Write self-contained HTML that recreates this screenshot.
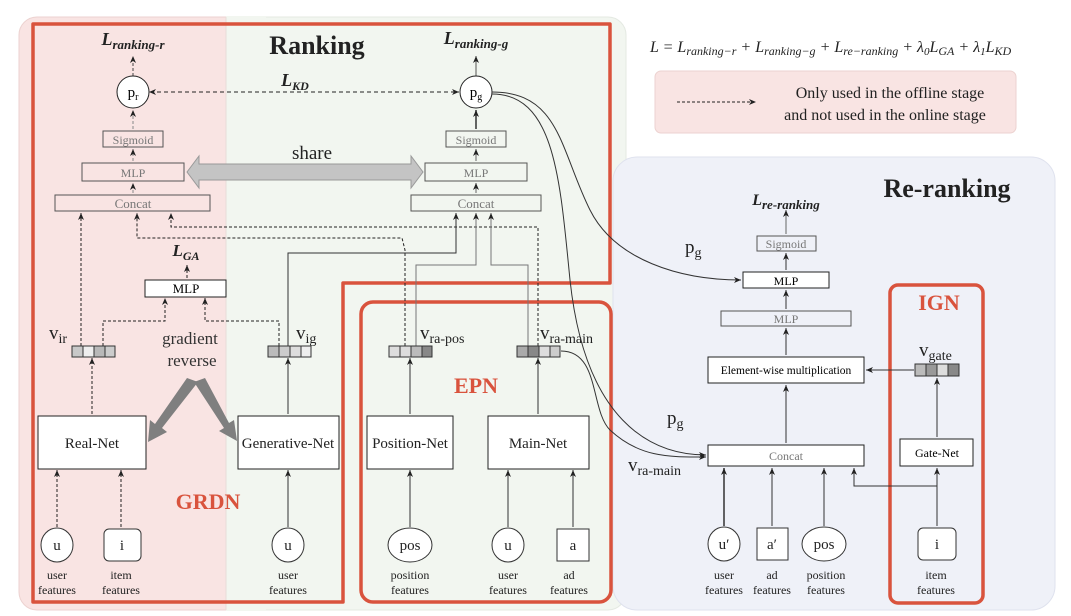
<!DOCTYPE html>
<html><head><meta charset="utf-8"><style>
html,body{margin:0;padding:0;background:#fff;}
svg{display:block;font-family:"Liberation Serif",serif;}
</style></head><body>
<svg width="1071" height="616" viewBox="0 0 1071 616" xmlns="http://www.w3.org/2000/svg">
<defs>
<marker id="ah" markerWidth="8" markerHeight="8" refX="7" refY="4" orient="auto" markerUnits="userSpaceOnUse"><path d="M0,1 L7,4 L0,7 L2,4 z" fill="#222"/></marker>
<marker id="ahs" markerWidth="8" markerHeight="8" refX="1" refY="4" orient="auto" markerUnits="userSpaceOnUse"><path d="M7,1 L0,4 L7,7 L5,4 z" fill="#222"/></marker>
</defs>
<!-- backgrounds -->
<rect x="226" y="17" width="400" height="593" rx="18" fill="#f2f6f0" stroke="#e4e9e2"/>
<rect x="19" y="17" width="240" height="593" rx="18" fill="#f9e4e3" stroke="#ecd2d0"/>
<rect x="226" y="16" width="40" height="595" fill="#f2f6f0"/>
<line x1="226" y1="17" x2="226" y2="610" stroke="#e8dcd8"/>
<rect x="613" y="157" width="442" height="453" rx="24" fill="#eff1f8" stroke="#dfe2ee"/>
<!-- red outlines -->
<path d="M33,24 H610 V283 H343 V602 H33 Z" fill="none" stroke="#d9533d" stroke-width="3.5" stroke-linejoin="round"/>
<rect x="361" y="302" width="250" height="300" rx="12" fill="none" stroke="#d9533d" stroke-width="3.5"/>
<rect x="890" y="285" width="93" height="318" rx="8" fill="none" stroke="#d9533d" stroke-width="3.5"/>

<!-- titles -->
<text x="317" y="54" font-size="26" font-weight="bold" text-anchor="middle" fill="#222">Ranking</text>
<text x="947" y="197" font-size="26" font-weight="bold" text-anchor="middle" fill="#222">Re-ranking</text>
<text x="208" y="509" font-size="22" font-weight="bold" text-anchor="middle" fill="#d9533d">GRDN</text>
<text x="476" y="393" font-size="22" font-weight="bold" text-anchor="middle" fill="#d9533d">EPN</text>
<text x="939" y="310" font-size="22" font-weight="bold" text-anchor="middle" fill="#d9533d">IGN</text>

<!-- formula & legend -->
<text x="650" y="52" font-size="16" font-style="italic" fill="#222">L = L<tspan font-size="12" dy="3">ranking−r</tspan><tspan dy="-3"> + L</tspan><tspan font-size="12" dy="3">ranking−g</tspan><tspan dy="-3"> + L</tspan><tspan font-size="12" dy="3">re−ranking</tspan><tspan dy="-3"> + λ</tspan><tspan font-size="11" dy="3">0</tspan><tspan dy="-3">L</tspan><tspan font-size="12" dy="3">GA</tspan><tspan dy="-3"> + λ</tspan><tspan font-size="11" dy="3">1</tspan><tspan dy="-3">L</tspan><tspan font-size="12" dy="3">KD</tspan></text>
<rect x="655" y="71" width="361" height="62" rx="6" fill="#f9e4e3" stroke="#ecd2d0"/>
<line x1="677" y1="102" x2="756" y2="102" stroke="#222" stroke-dasharray="3,2" marker-end="url(#ah)"/>
<text x="890" y="98" font-size="16" text-anchor="middle" fill="#222">Only used in the offline stage</text>
<text x="885" y="120" font-size="16" text-anchor="middle" fill="#222">and not used in the online stage</text>

<!-- ranking top -->
<text x="133" y="45" font-size="18" font-weight="bold" font-style="italic" text-anchor="middle" fill="#222">L<tspan font-size="13" dy="4">ranking-r</tspan></text>
<text x="476" y="44" font-size="18" font-weight="bold" font-style="italic" text-anchor="middle" fill="#222">L<tspan font-size="13" dy="4">ranking-g</tspan></text>
<text x="295" y="86" font-size="18" font-weight="bold" font-style="italic" text-anchor="middle" fill="#222">L<tspan font-size="12" dy="4">KD</tspan></text>
<line x1="133" y1="76" x2="133" y2="56" stroke="#444" stroke-dasharray="3,2" marker-end="url(#ah)"/>
<line x1="476" y1="76" x2="476" y2="56" stroke="#555" marker-end="url(#ah)"/>
<line x1="150" y1="92" x2="459" y2="92" stroke="#222" stroke-dasharray="4,3" marker-start="url(#ahs)" marker-end="url(#ah)"/>
<circle cx="133" cy="92" r="16" fill="#fff" stroke="#222"/>
<text x="133" y="97" font-size="15" text-anchor="middle">p<tspan font-size="10" dy="3">r</tspan></text>
<circle cx="476" cy="92" r="16" fill="#fff" stroke="#222"/>
<text x="476" y="97" font-size="15" text-anchor="middle">p<tspan font-size="10" dy="3">g</tspan></text>

<rect x="103" y="131" width="60" height="16" fill="none" stroke="#555"/>
<text x="133" y="144" font-size="12" text-anchor="middle" fill="#777">Sigmoid</text>
<rect x="446" y="131" width="60" height="16" fill="none" stroke="#555"/>
<text x="476" y="144" font-size="12" text-anchor="middle" fill="#777">Sigmoid</text>
<rect x="82" y="163" width="102" height="18" fill="none" stroke="#555"/>
<text x="133" y="177" font-size="12" text-anchor="middle" fill="#777">MLP</text>
<rect x="425" y="163" width="102" height="18" fill="none" stroke="#555"/>
<text x="476" y="177" font-size="12" text-anchor="middle" fill="#777">MLP</text>
<rect x="55" y="195" width="155" height="16" fill="none" stroke="#555"/>
<text x="133" y="208" font-size="13" text-anchor="middle" fill="#777">Concat</text>
<rect x="411" y="195" width="130" height="16" fill="none" stroke="#555"/>
<text x="476" y="208" font-size="13" text-anchor="middle" fill="#777">Concat</text>
<g stroke="#888" stroke-dasharray="3,2">
<line x1="133" y1="129" x2="133" y2="110" marker-end="url(#ah)"/>
<line x1="133" y1="161" x2="133" y2="149" marker-end="url(#ah)"/>
<line x1="133" y1="193" x2="133" y2="183" marker-end="url(#ah)"/>
</g>
<g stroke="#666">
<line x1="476" y1="129" x2="476" y2="110" stroke="#333" stroke-width="1.5" marker-end="url(#ah)"/>
<line x1="476" y1="161" x2="476" y2="149" marker-end="url(#ah)"/>
<line x1="476" y1="193" x2="476" y2="183" marker-end="url(#ah)"/>
</g>
<!-- share arrow -->
<path d="M187,172 L199,156 L199,164 L411,164 L411,156 L423,172 L411,188 L411,180 L199,180 L199,188 Z" fill="#c4c4c4" stroke="#999"/>
<text x="312" y="159" font-size="19" text-anchor="middle" fill="#222">share</text>

<!-- L_GA & small MLP -->
<text x="186" y="256" font-size="17" font-weight="bold" font-style="italic" text-anchor="middle" fill="#222">L<tspan font-size="12" dy="4">GA</tspan></text>
<line x1="187" y1="278" x2="187" y2="265" stroke="#222" stroke-dasharray="3,2" marker-end="url(#ah)"/>
<rect x="145" y="280" width="81" height="17" fill="#fff" stroke="#222"/>
<text x="186" y="293" font-size="13" text-anchor="middle">MLP</text>

<!-- dashed connectors to left concat -->
<g fill="none" stroke="#222" stroke-dasharray="3,2">
<path d="M81,346 V213" marker-end="url(#ah)"/>
<path d="M405,346 V250 L402,238 H137 V213" marker-end="url(#ah)"/>
<path d="M538,346 V227 H171 V213" marker-end="url(#ah)"/>
<path d="M103,346 V321 H165 V298" marker-end="url(#ah)"/>
<path d="M279,346 V321 H205 V298" marker-end="url(#ah)"/>
<path d="M92,414 V358" marker-end="url(#ah)"/>
<path d="M57,527 V470" marker-end="url(#ah)"/>
<path d="M121,527 V470" marker-end="url(#ah)"/>
</g>
<!-- solid connectors to right concat -->
<g fill="none" stroke="#333">
<path d="M288,346 V253 H456 V213" marker-end="url(#ah)"/>
<path d="M416,346 V265 H476 V213" stroke="#777" marker-end="url(#ah)"/>
<path d="M528,346 V265 H491 V213" stroke="#777" marker-end="url(#ah)"/>
<path d="M288,414 V358" marker-end="url(#ah)"/>
<path d="M410,414 V358" marker-end="url(#ah)"/>
<path d="M538,414 V358" marker-end="url(#ah)"/>
<path d="M288,527 V470" marker-end="url(#ah)"/>
<path d="M410,527 V470" marker-end="url(#ah)"/>
<path d="M508,527 V470" marker-end="url(#ah)"/>
<path d="M573,527 V470" marker-end="url(#ah)"/>
</g>

<!-- vectors -->
<g stroke="#333" stroke-width="1">
<rect x="72" y="346" width="11" height="11" fill="#c8c8c8"/><rect x="83" y="346" width="11" height="11" fill="#eee"/><rect x="94" y="346" width="11" height="11" fill="#b8b8b8"/><rect x="105" y="346" width="10" height="11" fill="#ccc"/>
<rect x="268" y="346" width="11" height="11" fill="#bbb"/><rect x="279" y="346" width="11" height="11" fill="#ccc"/><rect x="290" y="346" width="11" height="11" fill="#ddd"/><rect x="301" y="346" width="10" height="11" fill="#eee"/>
<rect x="389" y="346" width="11" height="11" fill="#ddd"/><rect x="400" y="346" width="11" height="11" fill="#ddd"/><rect x="411" y="346" width="11" height="11" fill="#bbb"/><rect x="422" y="346" width="10" height="11" fill="#888"/>
<rect x="517" y="346" width="11" height="11" fill="#aaa"/><rect x="528" y="346" width="11" height="11" fill="#888"/><rect x="539" y="346" width="11" height="11" fill="#ddd"/><rect x="550" y="346" width="10" height="11" fill="#ccc"/>
<rect x="915" y="364" width="11" height="12" fill="#bbb"/><rect x="926" y="364" width="11" height="12" fill="#999"/><rect x="937" y="364" width="11" height="12" fill="#ddd"/><rect x="948" y="364" width="11" height="12" fill="#888"/>
</g>
<g font-size="19" fill="#222">
<text x="49" y="339">v<tspan font-size="14" dy="4">ir</tspan></text>
<text x="296" y="339">v<tspan font-size="14" dy="4">ig</tspan></text>
<text x="420" y="339">v<tspan font-size="14" dy="4">ra-pos</tspan></text>
<text x="540" y="339">v<tspan font-size="14" dy="4">ra-main</tspan></text>
<text x="919" y="356">v<tspan font-size="14" dy="4">gate</tspan></text>
<text x="685" y="253">p<tspan font-size="14" dy="4">g</tspan></text>
<text x="667" y="424">p<tspan font-size="14" dy="4">g</tspan></text>
<text x="628" y="471">v<tspan font-size="14" dy="4">ra-main</tspan></text>
</g>
<text x="190" y="344" font-size="17" text-anchor="middle" fill="#333">gradient</text>
<text x="192" y="366" font-size="17" text-anchor="middle" fill="#333">reverse</text>
<!-- gray gradient arrows -->
<path d="M187,378 L198,382 L162,428 L167,432 L148,442 L150,420 L155,424 Z" fill="#7f7f7f"/>
<path d="M194,382 L205,378 L229,423 L234,420 L237,441 L219,431 L224,428 Z" fill="#7f7f7f"/>

<!-- net boxes -->
<g fill="#fff" stroke="#222">
<rect x="38" y="416" width="108" height="53"/>
<rect x="238" y="416" width="101" height="53"/>
<rect x="367" y="416" width="86" height="53"/>
<rect x="488" y="416" width="101" height="53"/>
</g>
<g font-size="15" text-anchor="middle" fill="#222">
<text x="92" y="448">Real-Net</text>
<text x="288" y="448">Generative-Net</text>
<text x="410" y="448">Position-Net</text>
<text x="538" y="448">Main-Net</text>
</g>

<!-- inputs -->
<g fill="#fff" stroke="#333">
<ellipse cx="57" cy="545" rx="16" ry="17"/>
<rect x="104" y="529" width="37" height="32" rx="5"/>
<ellipse cx="288" cy="545" rx="16" ry="17"/>
<ellipse cx="410" cy="545" rx="22" ry="17"/>
<ellipse cx="508" cy="545" rx="16" ry="17"/>
<rect x="557" y="529" width="32" height="32"/>
<ellipse cx="724" cy="544" rx="16" ry="17"/>
<rect x="757" y="528" width="31" height="32"/>
<ellipse cx="824" cy="544" rx="22" ry="17"/>
<rect x="918" y="528" width="38" height="32" rx="5"/>
</g>
<g font-size="15" text-anchor="middle" fill="#222">
<text x="57" y="550">u</text><text x="122" y="550">i</text><text x="288" y="550">u</text>
<text x="410" y="550">pos</text><text x="508" y="550">u</text><text x="573" y="550">a</text>
<text x="724" y="549">u′</text><text x="772" y="549">a′</text><text x="824" y="549">pos</text><text x="937" y="549">i</text>
</g>
<g font-size="12" text-anchor="middle" fill="#222">
<text x="57" y="579">user</text><text x="57" y="594">features</text>
<text x="121" y="579">item</text><text x="121" y="594">features</text>
<text x="288" y="579">user</text><text x="288" y="594">features</text>
<text x="410" y="579">position</text><text x="410" y="594">features</text>
<text x="508" y="579">user</text><text x="508" y="594">features</text>
<text x="569" y="579">ad</text><text x="569" y="594">features</text>
<text x="724" y="579">user</text><text x="724" y="594">features</text>
<text x="772" y="579">ad</text><text x="772" y="594">features</text>
<text x="826" y="579">position</text><text x="826" y="594">features</text>
<text x="936" y="579">item</text><text x="936" y="594">features</text>
</g>

<!-- re-ranking -->
<text x="786" y="205" font-size="16" font-weight="bold" font-style="italic" text-anchor="middle" fill="#222">L<tspan font-size="13" dy="4">re-ranking</tspan></text>
<rect x="757" y="236" width="59" height="15" fill="none" stroke="#555"/>
<text x="786" y="248" font-size="12" text-anchor="middle" fill="#777">Sigmoid</text>
<rect x="743" y="272" width="86" height="16" fill="#fff" stroke="#222"/>
<text x="786" y="285" font-size="12" text-anchor="middle">MLP</text>
<rect x="721" y="311" width="130" height="15" fill="none" stroke="#555"/>
<text x="786" y="323" font-size="12" text-anchor="middle" fill="#777">MLP</text>
<rect x="708" y="357" width="156" height="26" fill="#fff" stroke="#222"/>
<text x="786" y="374" font-size="11.5" text-anchor="middle">Element-wise multiplication</text>
<rect x="708" y="445" width="156" height="21" fill="#fff" stroke="#222"/>
<text x="786" y="460" font-size="12" text-anchor="middle" fill="#777">Concat</text>
<rect x="900" y="439" width="73" height="27" fill="#fff" stroke="#222"/>
<text x="937" y="457" font-size="12" text-anchor="middle">Gate-Net</text>
<g fill="none" stroke="#333">
<line x1="786" y1="234" x2="786" y2="210" stroke="#666" marker-end="url(#ah)"/>
<line x1="786" y1="270" x2="786" y2="253" marker-end="url(#ah)"/>
<line x1="786" y1="309" x2="786" y2="290" marker-end="url(#ah)"/>
<line x1="786" y1="355" x2="786" y2="328" marker-end="url(#ah)"/>
<line x1="786" y1="443" x2="786" y2="385" marker-end="url(#ah)"/>
<line x1="914" y1="370" x2="866" y2="370" marker-end="url(#ah)"/>
<line x1="937" y1="437" x2="937" y2="378" marker-end="url(#ah)"/>
<line x1="937" y1="526" x2="937" y2="468" marker-end="url(#ah)"/>
<path d="M937,486 H854 V468" marker-end="url(#ah)"/>
<line x1="724" y1="526" x2="724" y2="468" stroke-width="1.5" marker-end="url(#ah)"/>
<line x1="772" y1="526" x2="772" y2="468" marker-end="url(#ah)"/>
<line x1="824" y1="526" x2="824" y2="468" marker-end="url(#ah)"/>
<!-- curves -->
<path d="M492,92 C560,92 560,150 590,210 C615,260 680,280 741,280" marker-end="url(#ah)"/>
<path d="M492,94 C555,94 560,180 570,280 C585,420 650,455 706,455" marker-end="url(#ah)"/>
<path d="M561,351 C600,351 590,410 610,430 C640,458 670,457 706,457" marker-end="url(#ah)"/>
</g>
</svg>
</body></html>
